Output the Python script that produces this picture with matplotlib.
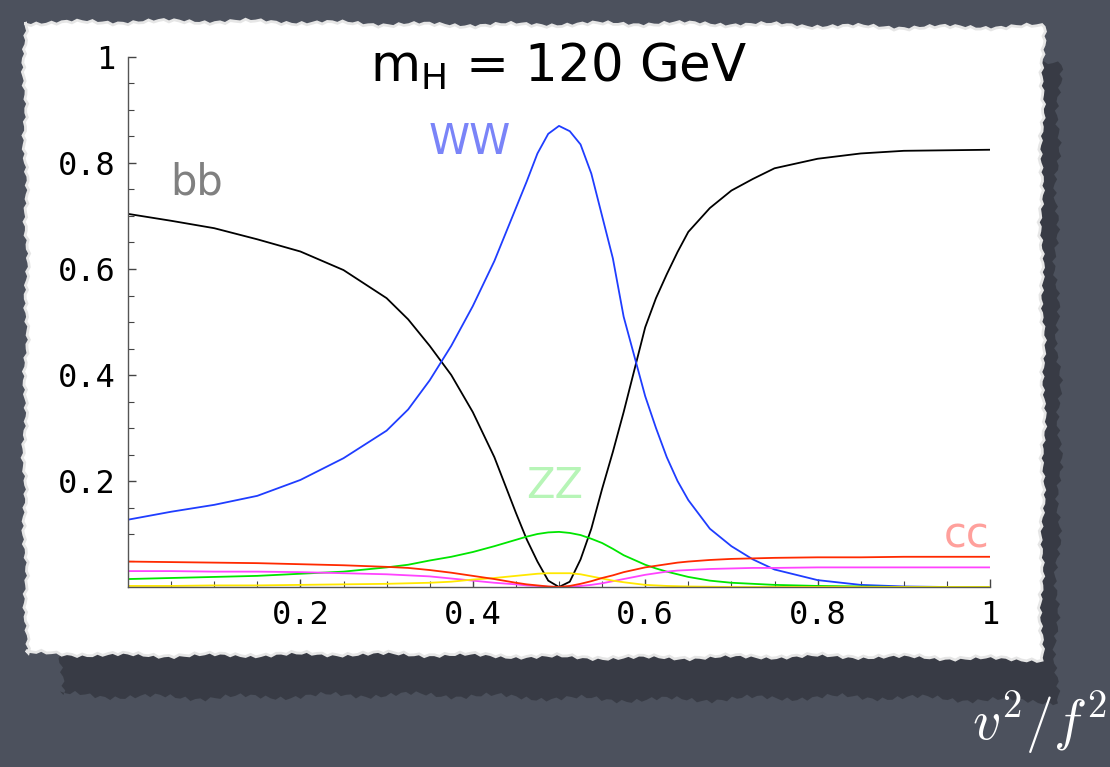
import numpy as np
import matplotlib
matplotlib.use("Agg")
import matplotlib.pyplot as plt
from matplotlib.patches import Polygon

# v^2/f^2 sample points
xi = [0.0, 0.05, 0.1, 0.15, 0.2, 0.25, 0.3, 0.325, 0.35, 0.375, 0.4, 0.425, 0.45,
      0.4625, 0.475, 0.4875, 0.5, 0.5125, 0.525, 0.5375, 0.55, 0.5625, 0.575, 0.6,
      0.6125, 0.625, 0.6375, 0.65, 0.675, 0.7, 0.725, 0.75, 0.8, 0.85, 0.9, 0.95, 1.0]

br_bb = [0.704, 0.691, 0.677, 0.656, 0.633, 0.598, 0.545, 0.505, 0.455, 0.400, 0.330,
         0.245, 0.140, 0.090, 0.048, 0.012, 0.0, 0.010, 0.052, 0.110, 0.185, 0.255,
         0.330, 0.490, 0.545, 0.590, 0.632, 0.670, 0.715, 0.748, 0.770, 0.790, 0.808,
         0.818, 0.823, 0.824, 0.825]
br_ww = [0.127, 0.142, 0.155, 0.172, 0.202, 0.243, 0.295, 0.335, 0.390, 0.455, 0.530,
         0.615, 0.715, 0.765, 0.818, 0.855, 0.870, 0.860, 0.835, 0.780, 0.700, 0.620,
         0.510, 0.360, 0.300, 0.245, 0.200, 0.164, 0.110, 0.077, 0.052, 0.033, 0.013,
         0.004, 0.001, 0.0, 0.0]
br_zz = [0.015, 0.017, 0.019, 0.021, 0.025, 0.029, 0.037, 0.042, 0.050, 0.057, 0.066,
         0.077, 0.089, 0.095, 0.100, 0.103, 0.104, 0.102, 0.098, 0.091, 0.083, 0.072,
         0.060, 0.042, 0.035, 0.029, 0.024, 0.019, 0.012, 0.008, 0.006, 0.004, 0.002,
         0.001, 0.0, 0.0, 0.0]
br_cc = [0.048, 0.047, 0.046, 0.045, 0.043, 0.041, 0.038, 0.036, 0.032, 0.027, 0.021,
         0.015, 0.008, 0.005, 0.003, 0.001, 0.0, 0.002, 0.006, 0.011, 0.017, 0.022,
         0.028, 0.037, 0.040, 0.043, 0.046, 0.048, 0.051, 0.053, 0.054, 0.055, 0.056,
         0.056, 0.057, 0.057, 0.057]
br_tau = [0.030, 0.030, 0.029, 0.029, 0.028, 0.026, 0.024, 0.022, 0.020, 0.016, 0.012,
          0.008, 0.005, 0.003, 0.002, 0.0005, 0.0, 0.0005, 0.002, 0.004, 0.007, 0.011,
          0.015, 0.023, 0.026, 0.029, 0.031, 0.032, 0.034, 0.035, 0.036, 0.036, 0.037,
          0.037, 0.037, 0.037, 0.037]
br_gg = [0.002, 0.002, 0.003, 0.003, 0.004, 0.005, 0.006, 0.007, 0.008, 0.010, 0.014,
         0.017, 0.021, 0.023, 0.025, 0.026, 0.026, 0.026, 0.024, 0.020, 0.016, 0.012,
         0.009, 0.004, 0.003, 0.002, 0.0015, 0.001, 0.0005, 0.0, 0.0, 0.0, 0.0,
         0.0, 0.0, 0.0, 0.0]

W, H = 1110, 767
fig = plt.figure(figsize=(W / 100, H / 100), dpi=100)
fig.patch.set_facecolor('#4c515d')


def px(x, y):
    return (x / W, 1 - y / H)


def torn_edge(x0, y0, x1, y1, amp, n):
    t = np.linspace(0, 1, n)
    k = np.arange(n)
    wob = amp * (0.35 * np.sin(2.3 * k) + 0.35 * np.sin(0.37 * k + 1.0)
                 + 0.3 * np.sin(0.07 * k + 2.0))
    xs = x0 + (x1 - x0) * t
    ys = y0 + (y1 - y0) * t
    if x0 == x1:
        xs = xs + wob
    else:
        ys = ys + wob
    return list(zip(xs, ys))


def paper(x0, y0, x1, y1, amp):
    pts = (torn_edge(x0, y0, x1, y0 + 5, amp, 200) +
           torn_edge(x1, y0 + 5, x1, y1, amp, 140) +
           torn_edge(x1, y1, x0, y1 - 5, amp, 200) +
           torn_edge(x0, y1 - 5, x0, y0, amp, 140))
    return [px(a, b) for a, b in pts]


fig.patches.append(Polygon(paper(60, 60, 1058, 700, 6), closed=True,
                           transform=fig.transFigure, facecolor='#30333b',
                           edgecolor='none', alpha=0.7, zorder=0))
fig.patches.append(Polygon(paper(26, 22, 1042, 658, 4), closed=True,
                           transform=fig.transFigure, facecolor='white',
                           edgecolor='#e6e6e6', linewidth=2, zorder=1))

ax = fig.add_axes([128 / W, 1 - 587 / H, 862 / W, 530 / H])
ax.set_zorder(3)
ax.set_facecolor('none')

ax.plot(xi, br_bb, color='black', lw=1.3)
ax.plot(xi, br_ww, color='#1f3dff', lw=1.3)
ax.plot(xi, br_zz, color='#00e600', lw=1.3)
ax.plot(xi, br_tau, color='#ff44ff', lw=1.3)
ax.plot(xi, br_gg, color='#ffe800', lw=1.3)
ax.plot(xi, br_cc, color='#ff2a00', lw=1.3)

ax.set_xlim(0, 1)
ax.set_ylim(0, 1)
ax.spines['top'].set_visible(False)
ax.spines['right'].set_visible(False)
for s in ('left', 'bottom'):
    ax.spines[s].set_color('#555555')
    ax.spines[s].set_linewidth(1.0)

ticks = [0.2, 0.4, 0.6, 0.8, 1.0]
labels = ['0.2', '0.4', '0.6', '0.8', '1']
ax.set_xticks(ticks)
ax.set_xticklabels(labels)
ax.set_yticks(ticks)
ax.set_yticklabels(labels)
ax.set_xticks(np.arange(0.05, 1.0, 0.05), minor=True)
ax.set_yticks(np.arange(0.05, 1.0, 0.05), minor=True)
ax.tick_params(which='both', direction='in', color='#444444')
ax.tick_params(which='major', length=6, width=1, pad=9)
ax.tick_params(which='minor', length=4, width=0.8)
for lab in ax.get_xticklabels() + ax.get_yticklabels():
    lab.set_fontfamily('DejaVu Sans Mono')
    lab.set_fontsize(23)

ax.text(0.5, 1.03, r'm$_\mathregular{H}$ = 120 GeV', transform=ax.transAxes,
        ha='center', va='top', fontsize=37, family='DejaVu Sans')
ax.text(0.08, 0.764, 'bb', color='#808080', fontsize=30, ha='center', va='center')
ax.text(0.397, 0.84, 'WW', color='#7a84f8', fontsize=30, ha='center', va='center')
ax.text(0.495, 0.19, 'ZZ', color='#b7f5b7', fontsize=30, ha='center', va='center')
ax.text(1.0, 0.097, 'cc', color='#ffa09c', fontsize=30, ha='right', va='center')

fig.text(0.997, 0.035, r'$v^2/f^2$', color='white', fontsize=40,
         ha='right', va='baseline', math_fontfamily='cm')

fig.savefig('out.png', dpi=100, facecolor=fig.get_facecolor())
